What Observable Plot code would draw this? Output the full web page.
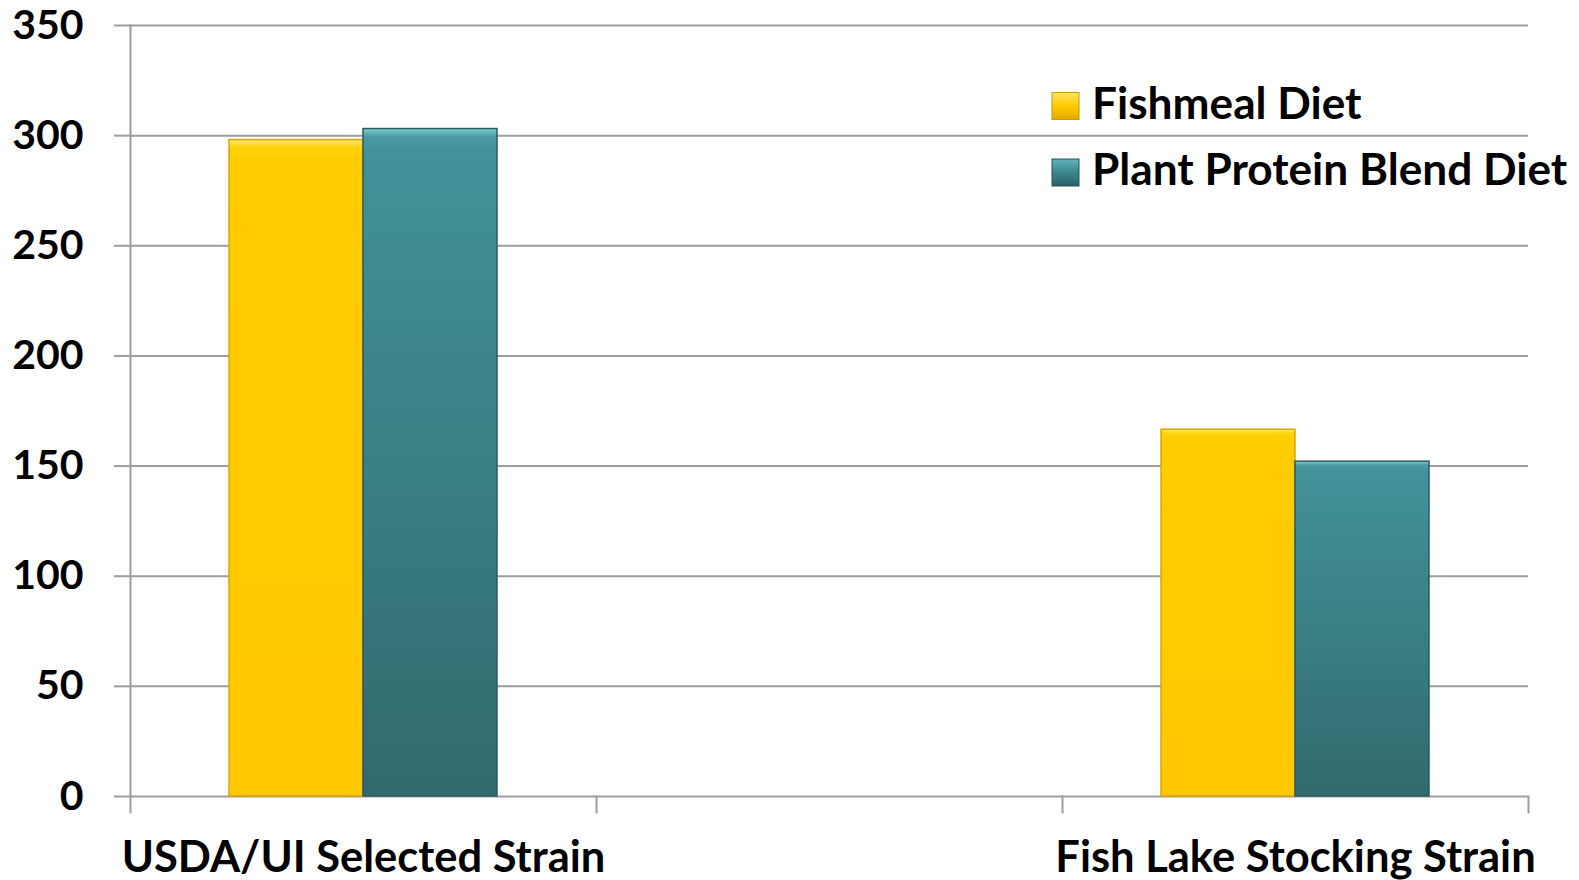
<!DOCTYPE html>
<html>
<head>
<meta charset="utf-8">
<script src="https://cdn.jsdelivr.net/npm/d3@7"></script>
<script src="https://cdn.jsdelivr.net/npm/@observablehq/plot@0.6"></script>
<style>
  html, body { margin: 0; padding: 0; background: #fff; }
  #chart { position: relative; width: 1579px; height: 880px; overflow: hidden; }
</style>
</head>
<body>
<div id="chart"></div>
<script>
// Strain categories; the middle slot of the category axis carries no bars
const strains = ["USDA/UI Selected Strain", " ", "Fish Lake Stocking Strain"];

// Diet series (null = no bar in that slot)
const diets = ["Fishmeal Diet", "Plant Protein Blend Diet"];
const fishmealValues = [298, null, 166.5];
const plantProteinValues = [303, null, 152];

// Value axis ticks
const yTicks = [0, 50, 100, 150, 200, 250, 300, 350];

const rows = strains.flatMap((strain, i) => [
  {strain, diet: diets[0], value: fishmealValues[i]},
  {strain, diet: diets[1], value: plantProteinValues[i]}
]);

const gridColor = "#9d9d9d";
const fontFamily = "Lato, 'Open Sans', sans-serif";
const W = 1579, H = 880;
const margin = {top: 25, right: 51, bottom: 84, left: 130};
const innerHeight = H - margin.top - margin.bottom;

const chart = Plot.plot({
  width: W,
  height: H,
  marginTop: margin.top,
  marginRight: margin.right,
  marginBottom: margin.bottom,
  marginLeft: margin.left,
  style: {fontFamily, background: "#fff", overflow: "visible"},
  fx: {domain: strains, padding: 0, axis: null},
  x: {domain: diets, paddingInner: 0, paddingOuter: 0.73, axis: null},
  y: {domain: [0, 350], axis: null},
  marks: [
    Plot.gridY(yTicks, {stroke: gridColor, strokeOpacity: 1, strokeWidth: 2}),
    // value axis line, running a little below the baseline
    Plot.frame({anchor: "left", fx: [strains[0]], stroke: gridColor, strokeWidth: 2, insetBottom: -16}),
    // category boundary ticks below the baseline
    Plot.frame({anchor: "right", stroke: gridColor, strokeWidth: 2, insetTop: innerHeight, insetBottom: -16}),
    Plot.barY(rows.filter((d) => d.diet === diets[0]), {
      fx: "strain", x: "diet", y: "value",
      fill: "url(#fishmealFill)", stroke: "#dba600", strokeWidth: 1.5
    }),
    Plot.barY(rows.filter((d) => d.diet === diets[1]), {
      fx: "strain", x: "diet", y: "value",
      fill: "url(#plantFill)", stroke: "#2b5b5f", strokeWidth: 1.5
    }),
    Plot.axisY(yTicks, {
      anchor: "left", label: null, tickSize: 16, tickPadding: 31,
      stroke: gridColor, strokeWidth: 2, fill: "#000",
      fontSize: 41, fontWeight: "bold", tickFormat: (d) => d
    }),
    Plot.axisFx({
      anchor: "bottom", label: null, tickSize: 0, tickPadding: 45,
      fill: "#000", fontSize: 43.5, fontWeight: "bold"
    })
  ]
});

document.getElementById("chart").appendChild(chart);

// Bevelled bar fills
const svg = d3.select(chart);
const defs = svg.insert("defs", ":first-child");
function vGradient(id, stops) {
  const g = defs.append("linearGradient").attr("id", id)
    .attr("x1", 0).attr("y1", 0).attr("x2", 0).attr("y2", 1);
  stops.forEach(([o, c]) => g.append("stop").attr("offset", o).attr("stop-color", c));
}
vGradient("fishmealFill", [[0, "#ffe97a"], [0.012, "#ffd20a"], [0.03, "#ffcc00"], [1, "#ffc800"]]);
vGradient("plantFill", [[0, "#7fd0d5"], [0.012, "#4a9ca2"], [0.03, "#419399"], [1, "#316a6e"]]);
vGradient("fishmealSwatch", [[0, "#ffe36a"], [0.5, "#ffcc00"], [1, "#e6a800"]]);
vGradient("plantSwatch", [[0, "#5fb3b9"], [0.5, "#3a878d"], [1, "#2b5f63"]]);

// Legend
const legend = svg.append("g").attr("font-family", fontFamily).attr("text-anchor", "start");
const legendSwatches = ["url(#fishmealSwatch)", "url(#plantSwatch)"];
const legendStrokes = ["#c99a00", "#265458"];
diets.forEach((name, i) => {
  const row = legend.append("g").attr("transform", `translate(1052,${92.5 + i * 66.5})`);
  row.append("rect").attr("width", 27).attr("height", 27)
    .attr("fill", legendSwatches[i]).attr("stroke", legendStrokes[i]).attr("stroke-width", 1);
  row.append("text").attr("x", 40).attr("y", 26)
    .attr("text-anchor", "start")
    .attr("font-size", 44.2).attr("font-weight", "bold").attr("fill", "#000")
    .text(name);
});
</script>
</body>
</html>
